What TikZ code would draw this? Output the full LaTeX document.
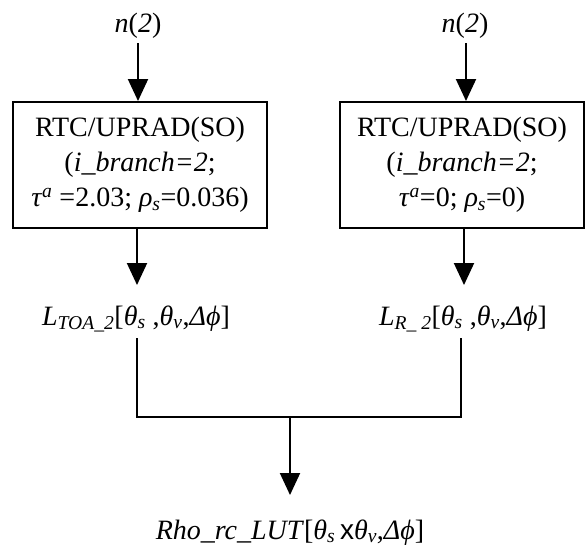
\documentclass[tikz,border=0pt]{standalone}
\usepackage{fontspec}
\setmainfont{Liberation Serif}
\setsansfont{Liberation Sans}
\usetikzlibrary{arrows.meta}
\newcommand\sbs[1]{\textsubscript{\itshape #1}}
\begin{document}
\begin{tikzpicture}[x=1pt,y=-1pt,
  every node/.style={font=\fontsize{28}{35}\selectfont, inner sep=0pt},
  boxst/.style={draw, line width=2pt, minimum height=126pt, align=center},
  arr/.style={line width=2pt, -{Triangle[width=20pt,length=22pt]}},
  ln/.style={line width=2pt}]
\useasboundingbox (0,0) rectangle (585,550);
% inputs
\node[anchor=base] (nL) at (138,32) {\textit{n}(\textit{2})};
\node[anchor=base] (nR) at (465,32) {\textit{n}(\textit{2})};
% boxes
\node[boxst, minimum width=254pt] (boxL) at (140,165)
  {RTC/UPRAD(SO)\\(\textit{i\_branch=2};\\ \textit{τ}\textsuperscript{\textit{a}} =2.03; \textit{ρ}\sbs{s}=0.036)};
\node[boxst, minimum width=244pt] (boxR) at (462,165)
  {RTC/UPRAD(SO)\\(\textit{i\_branch=2};\\\textit{τ}\textsuperscript{\textit{a}}=0; \textit{ρ}\sbs{s}=0)};
% outputs
\node[anchor=base] (LL) at (136,325)
  {\textit{L}\sbs{TOA\_2}[\textit{θ}\sbs{s} ,\textit{θ}\sbs{v},\textit{Δϕ}]};
\node[anchor=base] (LR) at (463,325)
  {\textit{L}\sbs{R\_ 2}[\textit{θ}\sbs{s} ,\textit{θ}\sbs{v},\textit{Δϕ}]};
\node[anchor=base] (res) at (290,539)
  {\textit{Rho\_rc\_LUT}[\textit{θ}\sbs{s}\,\textsf{x}\textit{θ}\sbs{v},\textit{Δϕ}]};
% coordinates
\coordinate (aL) at (138,43);
\coordinate (aR) at (466,43);
\coordinate (tL) at (137,285);
\coordinate (tR) at (464,285);
\coordinate (sL) at (137,338);
\coordinate (sR) at (461,338);
\coordinate (jL) at (137,417);
\coordinate (jR) at (461,417);
\coordinate (jM) at (290,417);
\coordinate (tM) at (290,495);
% connectors
\draw[arr] (aL) -- (aL |- boxL.north);
\draw[arr] (aR) -- (aR |- boxR.north);
\draw[arr] (tL |- boxL.south) -- (tL);
\draw[arr] (tR |- boxR.south) -- (tR);
\draw[ln] (sL) -- (jL) -- (jR) -- (sR);
\draw[arr] (jM) -- (tM);
\end{tikzpicture}
\end{document}
